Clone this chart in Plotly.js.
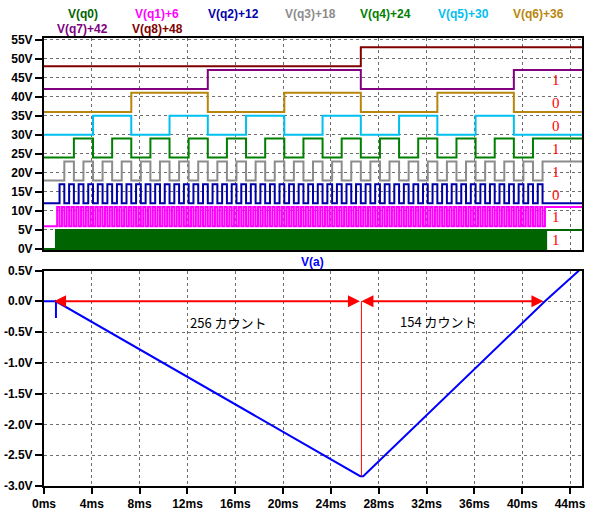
<!DOCTYPE html>
<html>
<head>
<meta charset="utf-8">
<script src="https://cdn.plot.ly/plotly-3.0.1.min.js"></script>
<style>html,body{margin:0;padding:0;background:#fff;}#chart{width:592px;height:512px;}</style>
</head>
<body>
<div id="chart"></div>
<script>
// ---- data ----
// 9-bit binary counter: clock period and start, final count (bits at the end: q8..q0 = 110011011)
const countZeroMs = 0.9;      // time of count 0 (first increment one period later)
const clockPeriodMs = 0.1;
const finalCount = 411;
const endMs = 45;
const bitOffsets = [0, 6, 12, 18, 24, 30, 36, 42, 48];
const logicHigh = 5;
const bitNames = ['V(q0)', 'V(q1)+6', 'V(q2)+12', 'V(q3)+18', 'V(q4)+24', 'V(q5)+30', 'V(q6)+36', 'V(q7)+42', 'V(q8)+48'];
const bitColors = ['#006400', '#ff00ff', '#0000a8', '#8c8c8c', '#008000', '#00c0f0', '#b8860b', '#800080', '#800000'];
const endBitLabels = ['1', '1', '0', '1', '1', '0', '0', '1'];   // q0..q7

// V(a) integrator output (ms, V)
const vaTime = [0, 1.0, 1.0, 1.0, 26.45, 26.7, 41.9, 44.75];
const vaVolt = [0, 0, -0.27, 0, -2.84, -2.84, 0, 0.5];

// annotations
const startCountMs = 0.84, peakMs = 26.55, stopMs = 41.9, peakVolt = -2.84;
const countTexts = ['256 カウント', '154 カウント'];

// tick labels
const xTickVals = [0, 4, 8, 12, 16, 20, 24, 28, 32, 36, 40, 44];
const xTickText = ['0ms', '4ms', '8ms', '12ms', '16ms', '20ms', '24ms', '28ms', '32ms', '36ms', '40ms', '44ms'];
const yTopVals = [0, 5, 10, 15, 20, 25, 30, 35, 40, 45, 50, 55];
const yTopText = ['0V', '5V', '10V', '15V', '20V', '25V', '30V', '35V', '40V', '45V', '50V', '55V'];
const yBotVals = [0.5, 0, -0.5, -1, -1.5, -2, -2.5, -3];
const yBotText = ['0.5V', '0.0V', '-0.5V', '-1.0V', '-1.5V', '-2.0V', '-2.5V', '-3.0V'];

// ---- build traces ----
const traces = [];
bitOffsets.forEach((off, k) => {
  const step = Math.pow(2, k);
  const xs = [0], ys = [off];
  let state = 0;
  for (let n = step; n <= finalCount; n += step) {
    state = 1 - state;
    xs.push(countZeroMs + n * clockPeriodMs);
    ys.push(off + state * logicHigh);
  }
  xs.push(endMs); ys.push(off + state * logicHigh);
  traces.push({
    x: xs, y: ys, xaxis: 'x', yaxis: 'y', type: 'scatter', mode: 'lines',
    line: {color: bitColors[k], width: 2, shape: 'hv', simplify: false},
    name: bitNames[k], hoverinfo: 'skip', showlegend: false
  });
});
traces.push({
  x: vaTime, y: vaVolt, xaxis: 'x2', yaxis: 'y2', type: 'scatter', mode: 'lines',
  line: {color: '#0000ff', width: 2}, name: 'V(a)', showlegend: false, hoverinfo: 'skip'
});

// ---- layout ----
const tickFont = {family: 'Liberation Sans, Arial, sans-serif', size: 12, color: '#000', weight: 'bold'};
const gridCommon = {showgrid: true, gridcolor: '#6e6e6e', gridwidth: 1, griddash: '3px,3px', zeroline: false,
  showline: true, linecolor: '#000', linewidth: 2, mirror: true};

const annotations = [];
const legendPos = [
  [83, 14], [157, 14], [233, 14], [310, 14], [385, 14], [463, 14], [538, 14], [82, 29], [157, 29]
];
bitNames.forEach((nm, k) => {
  annotations.push({
    text: nm, xref: 'paper', yref: 'paper',
    x: (legendPos[k][0] - 44) / 538, y: (486 - legendPos[k][1]) / 448,
    xanchor: 'center', yanchor: 'middle', showarrow: false,
    font: {family: 'Liberation Sans, Arial, sans-serif', size: 12, color: bitColors[k], weight: 'bold'}
  });
});
annotations.push({
  text: 'V(a)', xref: 'paper', yref: 'paper', x: (312 - 44) / 538, y: (486 - 262) / 448,
  xanchor: 'center', yanchor: 'middle', showarrow: false,
  font: {family: 'Liberation Sans, Arial, sans-serif', size: 12, color: '#0000ff', weight: 'bold'}
});
endBitLabels.forEach((lab, k) => {
  annotations.push({
    text: lab, xref: 'x', yref: 'y', x: 42.8, y: bitOffsets[k] + 2.3,
    xanchor: 'center', yanchor: 'middle', showarrow: false,
    font: {family: 'Liberation Serif, Times New Roman, serif', size: 15, color: '#ff0000'}
  });
});
// double-headed arrows
[[startCountMs, peakMs], [peakMs, stopMs]].forEach(([a, b]) => {
  annotations.push({
    text: '', xref: 'x2', yref: 'y2', axref: 'x2', ayref: 'y2',
    x: a, y: 0, ax: b, ay: 0, showarrow: true, arrowside: 'end+start',
    arrowhead: 2, arrowsize: 1.2, arrowwidth: 2, arrowcolor: '#ff0000', standoff: 0, startstandoff: 0
  });
});
annotations.push({
  text: countTexts[0], xref: 'x2', yref: 'y2', x: 15.4, y: -0.35, showarrow: false,
  xanchor: 'center', yanchor: 'middle',
  font: {family: 'Noto Sans CJK JP, sans-serif', size: 13, color: '#000'}
});
annotations.push({
  text: countTexts[1], xref: 'x2', yref: 'y2', x: 33.0, y: -0.33, showarrow: false,
  xanchor: 'center', yanchor: 'middle',
  font: {family: 'Noto Sans CJK JP, sans-serif', size: 13, color: '#000'}
});

const layout = {
  width: 592, height: 512,
  margin: {l: 44, r: 10, t: 38, b: 26, pad: 0},
  paper_bgcolor: '#fff', plot_bgcolor: '#fff',
  showlegend: false,
  xaxis: Object.assign({}, gridCommon, {domain: [0, 1], anchor: 'y', range: [0, 45],
    tickvals: xTickVals, ticktext: xTickText, showticklabels: false, ticks: ''}),
  yaxis: Object.assign({}, gridCommon, {domain: [0.5268, 1], anchor: 'x', range: [-0.26, 55.4],
    tickvals: yTopVals, ticktext: yTopText, ticks: 'outside', ticklen: 7, tickwidth: 2, tickcolor: '#000',
    tickfont: tickFont}),
  xaxis2: Object.assign({}, gridCommon, {domain: [0, 1], anchor: 'y2', range: [0, 45],
    tickvals: xTickVals, ticktext: xTickText, ticks: 'outside', ticklen: 6, tickwidth: 2, tickcolor: '#000',
    tickfont: tickFont}),
  yaxis2: Object.assign({}, gridCommon, {domain: [0, 0.481], anchor: 'x2', range: [-3, 0.5],
    tickvals: yBotVals, ticktext: yBotText, ticks: 'outside', ticklen: 7, tickwidth: 2, tickcolor: '#000',
    tickfont: tickFont}),
  shapes: [{type: 'line', xref: 'x2', yref: 'y2', x0: peakMs, x1: peakMs, y0: 0, y1: peakVolt,
    line: {color: '#ff0000', width: 1}}],
  annotations: annotations
};

Plotly.newPlot('chart', traces, layout, {staticPlot: true, displayModeBar: false});
</script>
</body>
</html>
